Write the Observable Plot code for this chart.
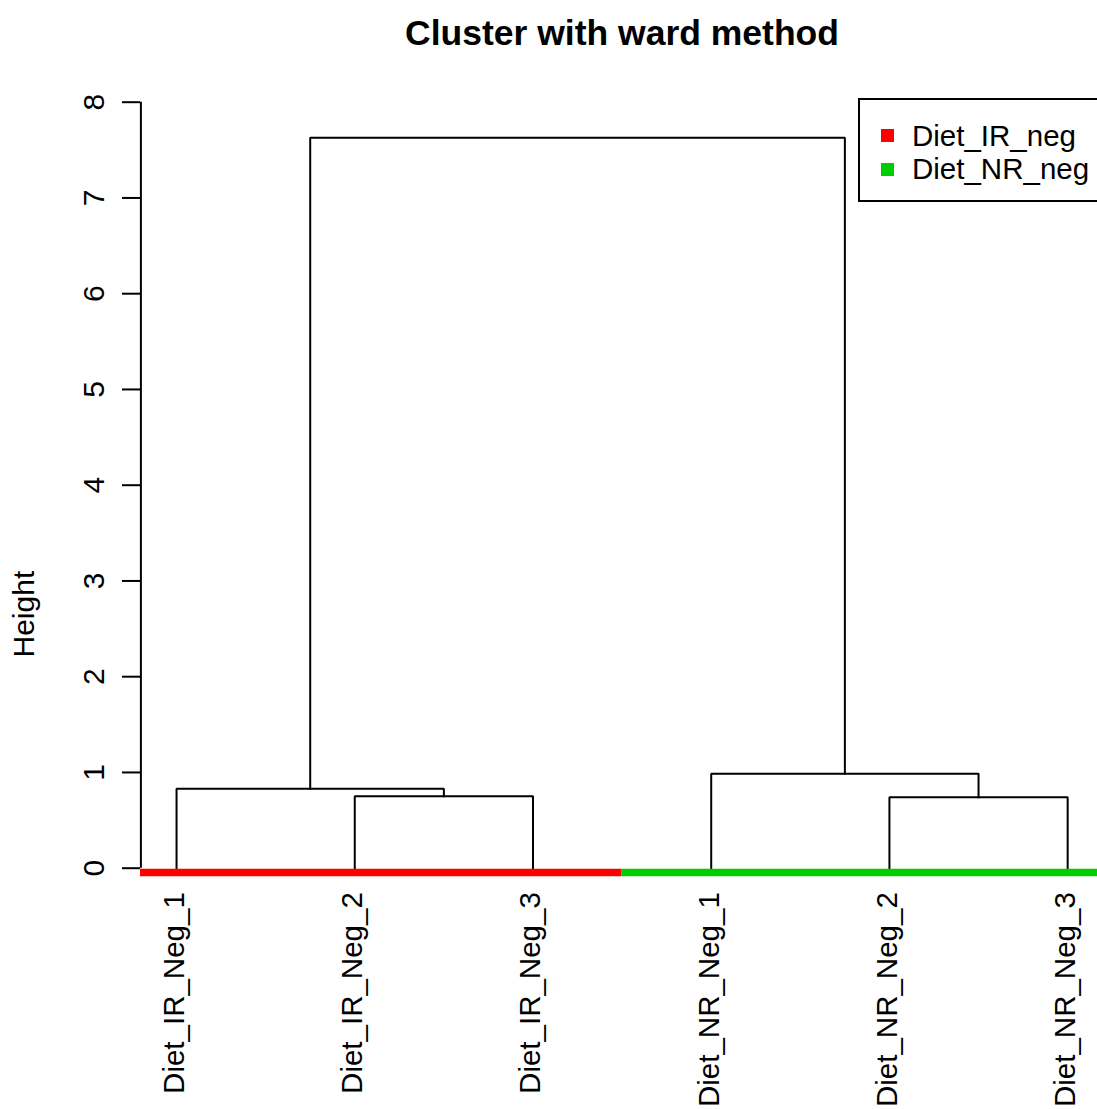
<!DOCTYPE html>
<html>
<head>
<meta charset="utf-8">
<script src="https://cdn.jsdelivr.net/npm/d3@7"></script>
<script src="https://cdn.jsdelivr.net/npm/@observablehq/plot@0.6"></script>
<style>
  html, body { margin: 0; padding: 0; background: #fff; overflow: hidden; }
  #wrap { position: relative; width: 1097px; height: 1109px; font-family: "Liberation Sans", Arial, sans-serif; }
  #legend { position: absolute; left: 858px; top: 98px; width: 400px; height: 104px; box-sizing: border-box; border: 2px solid #000; background: #fff; }
  .lg-sq { position: absolute; width: 13px; height: 13px; }
  .lg-tx { position: absolute; font-size: 29.5px; line-height: 29.5px; color: #000; white-space: nowrap; }
</style>
</head>
<body>
<div id="wrap"></div>
<script>
// ---- data ----
const title = "Cluster with ward method";
const yLabel = "Height";
const leaves = ["Diet_IR_Neg_1", "Diet_IR_Neg_2", "Diet_IR_Neg_3", "Diet_NR_Neg_1", "Diet_NR_Neg_2", "Diet_NR_Neg_3"];
const leafGroup = ["Diet_IR_neg", "Diet_IR_neg", "Diet_IR_neg", "Diet_NR_neg", "Diet_NR_neg", "Diet_NR_neg"];
const groups = ["Diet_IR_neg", "Diet_NR_neg"];
const groupColors = ["#FF0000", "#00CD00"];
// hclust-style merges: negative = leaf number, positive = earlier merge number
const mergeLeft = [-2, -1, -5, -4, 2];
const mergeRight = [-3, 1, -6, 3, 4];
const mergeHeight = [0.752, 0.829, 0.742, 0.986, 7.63];
const yTicks = [0, 1, 2, 3, 4, 5, 6, 7, 8];

// ---- build dendrogram geometry from the merges ----
const nodeX = [], nodeH = [];
function childPos(c) {
  return c < 0 ? {x: -c, h: 0} : {x: nodeX[c - 1], h: nodeH[c - 1]};
}
const segs = [];
mergeHeight.forEach((h, i) => {
  const L = childPos(mergeLeft[i]), R = childPos(mergeRight[i]);
  nodeX[i] = (L.x + R.x) / 2;
  nodeH[i] = h;
  segs.push({id: i, x: L.x, y: L.h}, {id: i, x: L.x, y: h}, {id: i, x: R.x, y: h}, {id: i, x: R.x, y: R.h});
});
const leafData = leaves.map((name, i) => ({name, pos: i + 1, h: 0, group: leafGroup[i]}));
const groupSpans = groups.map((g, gi) => {
  const idx = leafData.filter(d => d.group === g).map(d => d.pos);
  return {group: g, x1: d3.min(idx) - 0.5, x2: d3.max(idx) + 0.5, color: groupColors[gi], h: 0};
});

const chart = Plot.plot({
  width: 1097,
  height: 1109,
  marginLeft: 140,
  marginRight: 0,
  marginTop: 0,
  marginBottom: 0,
  style: {fontFamily: "\"Liberation Sans\", Arial, sans-serif", fontSize: "30px", color: "#000", background: "transparent"},
  x: {domain: [0.8, 6.2], range: [140.4, 1102.8], axis: null},
  y: {domain: [0, 8], range: [867.7, 101.7], axis: null},
  marks: [
    Plot.ruleX([0.8], {y1: yTicks[0], y2: yTicks[yTicks.length - 1], stroke: "#000", strokeWidth: 2}),
    Plot.axisY({ticks: yTicks, tickSize: 18, tickPadding: 19, tickRotate: -90, fontSize: 30, label: null, strokeWidth: 2, tickFormat: d => String(d)}),
    Plot.line(segs, {x: "x", y: "y", z: "id", stroke: "#000", strokeWidth: 2, strokeLinejoin: "miter", strokeLinecap: "square"}),
    Plot.ruleY(groupSpans, {y: "h", x1: "x1", x2: "x2", stroke: "color", strokeWidth: 7.5, dy: 4.3, clip: true}),
    Plot.text(leafData, {x: "pos", y: "h", text: "name", rotate: -90, textAnchor: "end", dy: 24, dx: -2, fontSize: 29.5, fill: "#000"}),
    Plot.text([yLabel], {frameAnchor: "left", rotate: -90, dx: -116, dy: 102.5, fontSize: 30, fill: "#000"}),
    Plot.text([title], {frameAnchor: "top", lineAnchor: "top", dx: 3, dy: 19, fontSize: 35.5, fontWeight: "bold", fill: "#000"})
  ]
});
const wrap = document.getElementById("wrap");
wrap.appendChild(chart);

// ---- legend ----
const lg = document.createElement("div");
lg.id = "legend";
wrap.appendChild(lg);
groups.forEach((g, i) => {
  const sq = document.createElement("div");
  sq.className = "lg-sq";
  sq.style.background = groupColors[i];
  sq.style.left = (879 - 858) + "px";
  sq.style.top = (127.3 + i * 34 - 98) + "px";
  lg.appendChild(sq);
  const tx = document.createElement("div");
  tx.className = "lg-tx";
  tx.textContent = g;
  tx.style.left = (912 - 858 - 2) + "px";
  tx.style.top = (120.5 + i * 33.5 - 98 - 2) + "px";
  lg.appendChild(tx);
});
</script>
</body>
</html>
